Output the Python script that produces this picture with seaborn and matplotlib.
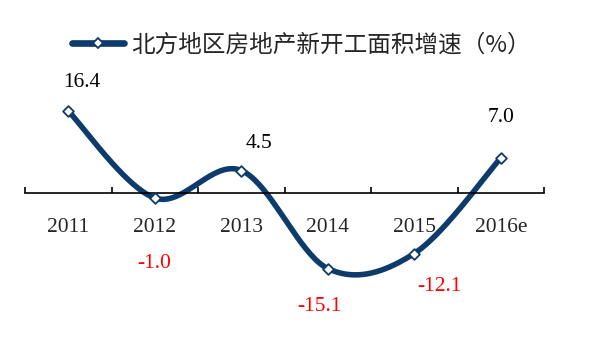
import matplotlib
matplotlib.use("Agg")
import matplotlib.pyplot as plt
import numpy as np
import pandas as pd
import seaborn as sns
from matplotlib.lines import Line2D

years  = ["2011", "2012", "2013", "2014", "2015", "2016e"]
growth = [16.4, -1.0, 4.5, -15.1, -12.1, 7.0]
series_name = "北方地区房地产新开工面积增速（%）"

NAVY = "#0D3B6C"
RED  = "#FF0000"
# label offsets (points) relative to each marker, as placed in the original
label_off = [(9.7, 20.2), (-0.7, -46.8), (12.7, 19.4),
             (-5.8, -27.4), (18.0, -23.8), (0.0, 28.8)]


def smooth_path(xs, ys, n=40):
    # Catmull-Rom style smoothing, like spreadsheet "smoothed line"
    pts = np.column_stack([xs, ys]).astype(float)
    ext = np.vstack([pts[0], pts, pts[-1]])
    out = []
    for i in range(len(pts) - 1):
        p0, p1, p2, p3 = ext[i], ext[i + 1], ext[i + 2], ext[i + 3]
        c1 = p1 + (p2 - p0) / 6
        c2 = p2 - (p3 - p1) / 6
        t = np.linspace(0, 1, n)[:, None]
        seg = ((1 - t) ** 3) * p1 + 3 * ((1 - t) ** 2) * t * c1 \
            + 3 * (1 - t) * t ** 2 * c2 + t ** 3 * p2
        out.append(seg if i == 0 else seg[1:])
    seg = np.vstack(out)
    return seg[:, 0], seg[:, 1]


df = pd.DataFrame({"pos": np.arange(len(years)), "growth": growth})

sns.set_theme(style="white")
plt.rcParams["font.family"] = ["Liberation Serif", "Noto Sans CJK SC"]

fig = plt.figure(figsize=(5.92, 3.58), dpi=100)
ax = fig.add_axes([25 / 592, 15 / 358, 519 / 592, 300 / 358])

sx, sy = smooth_path(df["pos"], df["growth"])
sns.lineplot(x=sx, y=sy, sort=False, color=NAVY, linewidth=4.0, ax=ax,
             estimator=None)
sns.scatterplot(data=df, x="pos", y="growth", marker="D", s=30,
                facecolor="white", edgecolor=NAVY, linewidth=1.3,
                zorder=5, ax=ax)

for (x, v), off in zip(zip(df["pos"], df["growth"]), label_off):
    ax.annotate(f"{v:.1f}", (x, v), xytext=off, textcoords="offset points",
                ha="center", va="center", fontsize=15.5,
                color=RED if v < 0 else "black",
                family="Liberation Serif")

ax.set_xlim(-0.5, len(years) - 0.5)
ax.set_ylim(-30, 30)
ax.set_xlabel("")
ax.set_ylabel("")
for s in ["top", "left", "right"]:
    ax.spines[s].set_visible(False)
ax.spines["bottom"].set_position(("data", 0))
ax.spines["bottom"].set_color("black")
ax.spines["bottom"].set_linewidth(1.2)

ax.set_yticks([])
ax.set_xticks(np.arange(len(years) + 1) - 0.5)
ax.set_xticklabels([])
ax.set_xticks(np.arange(len(years)), minor=True)
ax.set_xticklabels(years, minor=True, fontsize=15.5,
                   family="Liberation Serif")
ax.tick_params(axis="x", which="major", direction="in", length=4,
               width=1.2, color="black", bottom=True)
ax.tick_params(axis="x", which="minor", length=0, pad=18, bottom=True)

handle = Line2D([], [], color=NAVY, linewidth=4.8, marker="D",
                markersize=5.5, markerfacecolor="white",
                markeredgecolor=NAVY, markeredgewidth=1.3)
fig.legend([handle], [series_name], loc="center left",
           bbox_to_anchor=(72 / 592, 1 - 45 / 358), frameon=False,
           borderpad=0, borderaxespad=0, handlelength=2.2,
           handletextpad=0.3,
           prop={"family": ["Noto Sans CJK SC", "DejaVu Sans"], "size": 17})

fig.savefig("out.png", dpi=100)
